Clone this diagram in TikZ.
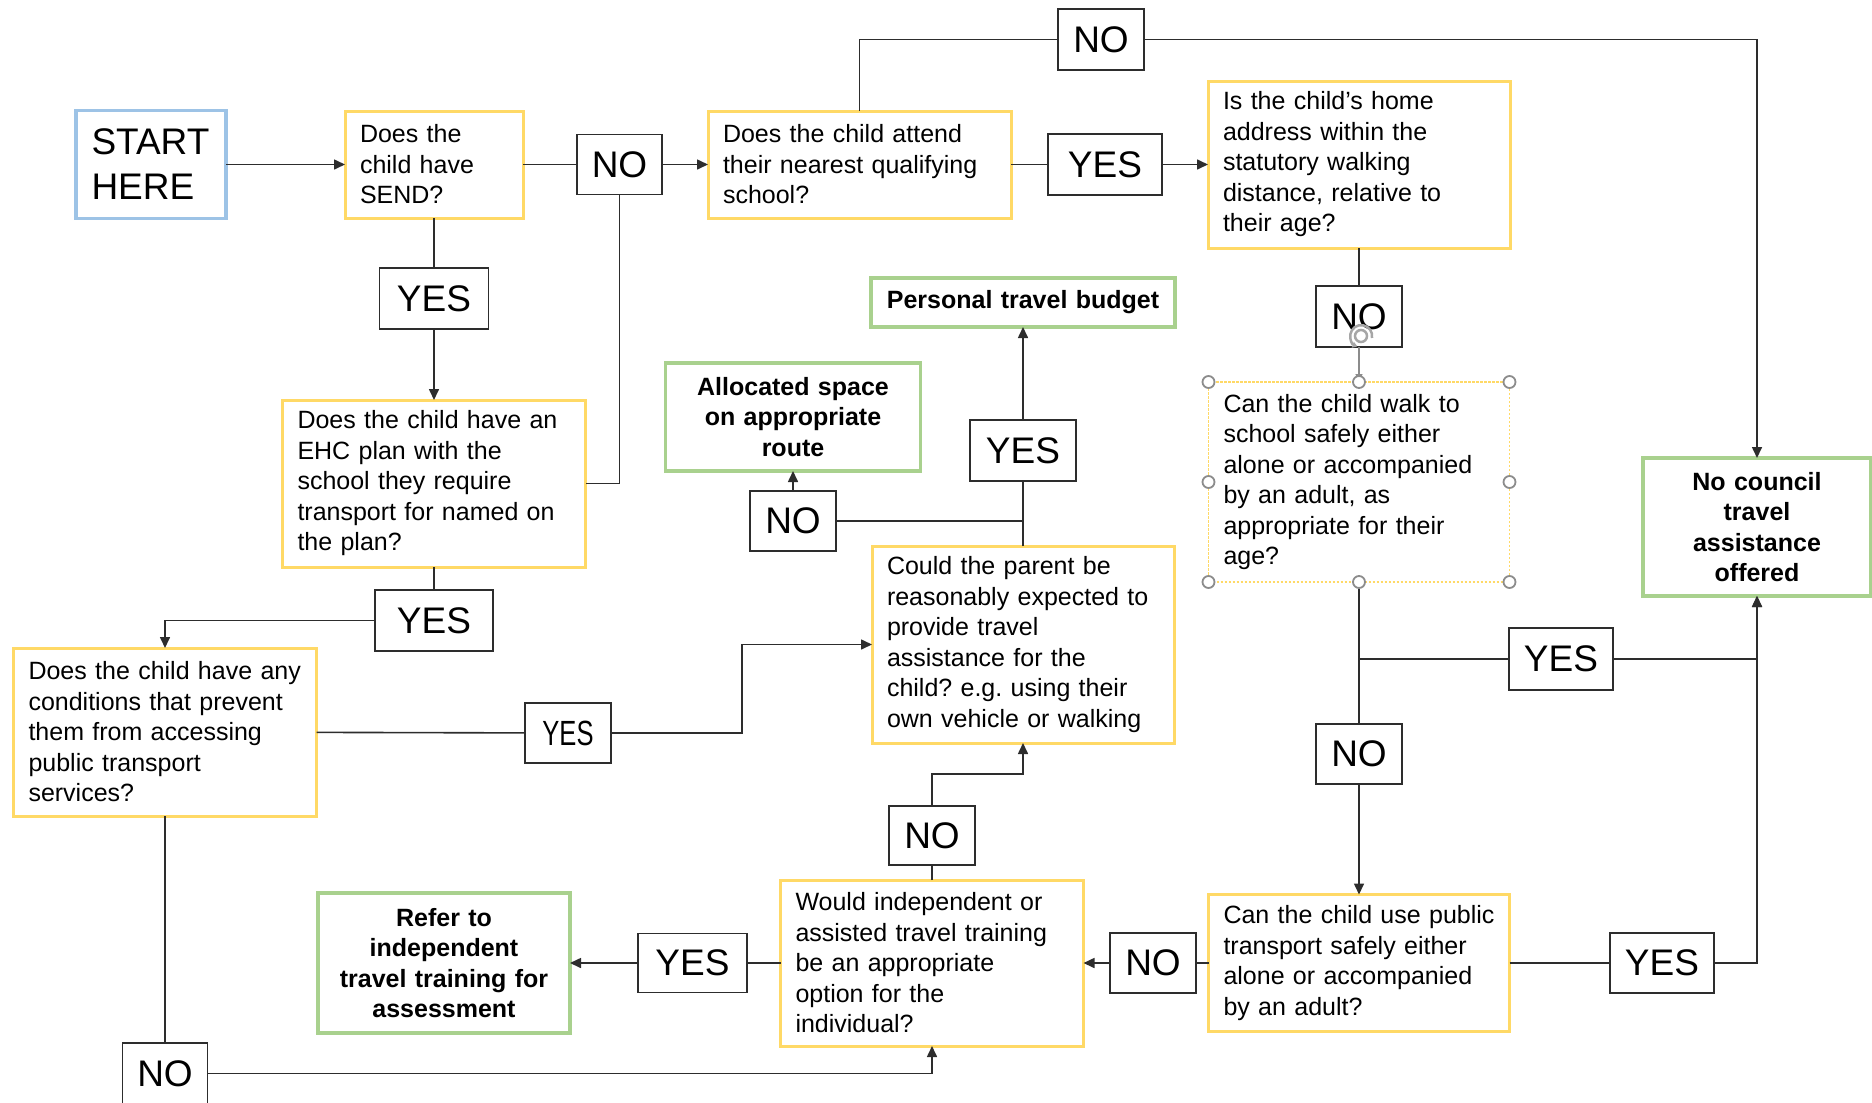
\documentclass[tikz,border=0pt]{standalone}
\usepackage{fontspec}
\setmainfont{Liberation Sans}
\usepackage{graphicx}
\usetikzlibrary{arrows.meta}
\definecolor{qyellow}{RGB}{255,217,102}
\definecolor{rgreen}{RGB}{169,209,142}
\definecolor{sblue}{RGB}{157,195,230}
\definecolor{lnk}{RGB}{45,45,45}
\frenchspacing
\begin{document}
\begin{tikzpicture}[x=1pt,y=-1pt,
  every node/.style={inner sep=0pt, outer sep=0pt},
  qbox/.style={draw=qyellow, line width=3pt, align=left, font=\fontsize{25}{30.5}\selectfont},
  wbox/.style={draw=qyellow, line width=1.8pt, dash pattern=on 2.5pt off 1.5pt, align=left, font=\fontsize{25}{30.5}\selectfont},
  gbox/.style={draw=rgreen, line width=3.5pt, align=center, font=\bfseries\fontsize{25}{30.5}\selectfont},
  sbox/.style={draw=sblue, line width=3.5pt, align=left, font=\fontsize{37}{45}\selectfont},
  lbl/.style={draw=lnk, line width=1.6pt, font=\fontsize{37}{44}\selectfont},
  con/.style={draw=lnk, line width=1.6pt},
  arr/.style={con, -{Triangle[length=11pt,width=10pt]}},
  hdl/.style={draw=black!45, fill=white, line width=1.8pt}
]
\useasboundingbox (0,0) rectangle (1872,1103);

% ---- nodes ----
\node[sbox, minimum width=150pt, minimum height=108pt, text width=119pt] (start) at (151,164.5) {START\\HERE};
\node[qbox, minimum width=178pt, minimum height=107pt, text width=148pt] (send) at (434,164.5) {Does the\\child have\\SEND?};
\node[lbl, minimum width=85pt, minimum height=60pt] (no1) at (619.5,164.5) {NO};
\node[qbox, minimum width=303pt, minimum height=107pt, text width=273pt] (attend) at (859.5,164.5) {Does the child attend\\their nearest qualifying\\school?};
\node[lbl, minimum width=114pt, minimum height=61pt] (yes2) at (1105,164.5) {YES};
\node[qbox, minimum width=302pt, minimum height=167pt, text width=272pt] (home) at (1359,164.5) {Is the child’s home\\address within the\\statutory walking\\distance, relative to\\their age?};
\node[lbl, minimum width=86pt, minimum height=61pt] (notop) at (1101,39.5) {NO};
\node[lbl, minimum width=109pt, minimum height=61pt] (yesa) at (434,298.5) {YES};
\node[qbox, minimum width=303pt, minimum height=167pt, text width=273pt] (ehc) at (434,483.5) {Does the child have an\\EHC plan with the\\school they require\\transport for named on\\the plan?};
\node[gbox, minimum width=304pt, minimum height=49pt, text width=290pt] (personal) at (1023,302.5) {Personal travel budget};
\node[gbox, minimum width=255pt, minimum height=108pt, text width=240pt] (alloc) at (793,417) {Allocated space\\on appropriate\\route};
\node[lbl, minimum width=86pt, minimum height=60pt] (nob) at (793,521) {NO};
\node[lbl, minimum width=106pt, minimum height=61pt] (yesc) at (1023,450.5) {YES};
\node[lbl, minimum width=86pt, minimum height=61pt] (no3) at (1359,316.5) {NO};
\node[wbox, minimum width=301pt, minimum height=200pt, text width=271pt] (walk) at (1359,482) {Can the child walk to\\school safely either\\alone or accompanied\\by an adult, as\\appropriate for their\\age?};
\node[gbox, minimum width=228pt, minimum height=138pt, text width=210pt] (nocouncil) at (1757,527) {No council\\travel\\assistance\\offered};
\node[qbox, minimum width=302pt, minimum height=197pt, text width=272pt] (could) at (1023,644.5) {Could the parent be\\reasonably expected to\\provide travel\\assistance for the\\child? e.g. using their\\own vehicle or walking};
\node[lbl, minimum width=118pt, minimum height=61pt] (yesb) at (434,620.5) {YES};
\node[qbox, minimum width=303pt, minimum height=168pt, text width=273pt] (cond) at (165,732) {Does the child have any\\conditions that prevent\\them from accessing\\public transport\\services?};
\node[lbl, minimum width=86pt, minimum height=60pt, font=\fontsize{35}{40}\selectfont] (yesd) at (568,733) {\scalebox{0.73}[1]{YES}};
\node[lbl, minimum width=104pt, minimum height=62pt] (yesf) at (1561,659) {YES};
\node[lbl, minimum width=86pt, minimum height=60pt] (noe) at (1359,754) {NO};
\node[lbl, minimum width=86pt, minimum height=59pt] (noc) at (932,835.5) {NO};
\node[gbox, minimum width=252pt, minimum height=140pt, text width=236pt] (refer) at (444,963) {Refer to\\independent\\travel training for\\assessment};
\node[lbl, minimum width=109pt, minimum height=59pt] (yese) at (692.5,963) {YES};
\node[qbox, minimum width=303pt, minimum height=166pt, text width=273pt] (would) at (932,963) {Would independent or\\assisted travel training\\be an appropriate\\option for the\\individual?};
\node[lbl, minimum width=86pt, minimum height=60pt] (nod) at (1153,963) {NO};
\node[qbox, minimum width=301pt, minimum height=137pt, text width=271pt] (public) at (1359,963) {Can the child use public\\transport safely either\\alone or accompanied\\by an adult?};
\node[lbl, minimum width=104pt, minimum height=60pt] (yesg) at (1662,963) {YES};
\node[lbl, minimum width=85pt, minimum height=61pt] (nof) at (165,1073.5) {NO};

\coordinate (jw) at (1359,659);
\coordinate (jc) at (1023,521);

% ---- connectors ----
\draw[arr] (start) -- (send);
\draw[con] (send) -- (no1);
\draw[arr] (no1) -- (attend);
\draw[con] (attend) -- (yes2);
\draw[arr] (yes2) -- (home);
\draw[con] (attend.north) |- (notop.west);
\draw[arr] (notop.east) -| (nocouncil.north);
\draw[con] (home) -- (no3);
\draw[draw=black!45, line width=1.2pt, -{Triangle[length=8pt,width=7pt]}] (no3) -- (walk);
\draw[con] (walk.south) -- (noe.north);
\draw[con] (jw) -- (yesf.west);
\draw[arr] (yesf.east) -| (nocouncil.south);
\draw[arr] (noe) -- (public);
\draw[con] (public) -- (yesg);
\draw[arr] (yesg.east) -| (nocouncil.south);
\draw[con] (public) -- (nod);
\draw[arr] (nod) -- (would);
\draw[con] (would) -- (yese);
\draw[arr] (yese) -- (refer);
\draw[con] (would) -- (noc);
\draw[arr] (noc.north) -- ++(0,-32) -| (could.south);
\draw[con] (send) -- (yesa);
\draw[arr] (yesa) -- (ehc);
\draw[con] (no1.south) |- (ehc.east);
\draw[con] (ehc) -- (yesb);
\draw[arr] (yesb.west) -| (cond.north);
\draw[con] (cond) -- (yesd);
\draw[arr] (yesd.east) -- ++(131,0) |- (could.west);
\draw[con] (cond) -- (nof);
\draw[arr] (nof.east) -| (would.south);
\draw[con] (could) -- (yesc);
\draw[arr] (yesc) -- (personal);
\draw[con] (jc) -- (nob);
\draw[arr] (nob) -- (alloc);

% ---- selection handles on the walk box ----
\foreach \a in {north west,north,north east,east,south east,south,south west,west}
  \draw[hdl] (walk.\a) circle[radius=6pt];
% rotation handle
\draw[black!35, line width=2.5pt] (1361,336) circle[radius=6pt];
\draw[black!35, line width=2.5pt, -{Triangle[length=5pt,width=6pt]}] (1372,338) arc[start angle=-10, end angle=250, radius=11pt];
\end{tikzpicture}
\end{document}
